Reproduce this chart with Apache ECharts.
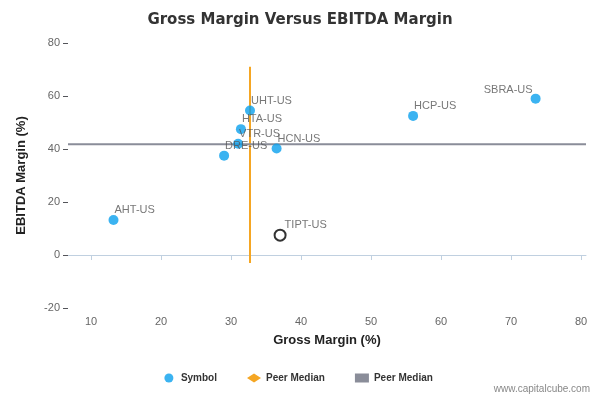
<!DOCTYPE html>
<html><head><meta charset="utf-8">
<script src="https://cdn.jsdelivr.net/npm/echarts@6/dist/echarts.min.js"></script>
</head><body style="margin:0">
<div id="c" style="width:600px;height:400px"></div>
<script>
var symbols = ['AHT-US','DRE-US','VTR-US','HTA-US','UHT-US','HCN-US','HCP-US','SBRA-US'];
var grossMargin = [13.2, 29.0, 31.0, 31.4, 32.7, 36.5, 56.0, 73.5];
var ebitdaMargin = [13.2, 37.5, 42.0, 47.5, 54.5, 40.2, 52.5, 59.0];
var target = {name:'TIPT-US', x:37.0, y:7.5};
var peerMedianX = 32.7, peerMedianY = 41.8;
var xTicks = [10,20,30,40,50,60,70,80];

var pts = symbols.map(function(s,i){
  return {name:s, value:[grossMargin[i], ebitdaMargin[i]],
    label: s==='SBRA-US' ? {position:'left', distance:0, offset:[2,-9]} : {position:'right', distance:0, offset:[-4,-10]}};
});
var chart = echarts.init(document.getElementById('c'));
chart.setOption({
  animation:false,
  title:{text:'Gross Margin Versus EBITDA Margin', left:'center', top:8,
    textStyle:{fontSize:15, fontWeight:'bold', color:'#333', fontFamily:'DejaVu Sans'}},
  grid:{left:68, right:14, top:43, bottom:92},
  xAxis:{type:'value', min:6.7, max:80.7, name:'Gross Margin (%)', nameLocation:'middle', nameGap:26,
    nameTextStyle:{fontWeight:'bold', fontSize:13, color:'#222'},
    axisLine:{lineStyle:{color:'#c0d0e0'}},
    axisTick:{show:true, customValues:xTicks, lineStyle:{color:'#c0d0e0'}},
    axisLabel:{customValues:xTicks, color:'#666', fontSize:11},
    splitLine:{show:false}},
  yAxis:{type:'value', min:-20, max:80, interval:20, name:'EBITDA Margin (%)', nameLocation:'middle', nameGap:40,
    nameTextStyle:{fontWeight:'bold', fontSize:13, color:'#222'},
    axisLine:{show:false},
    axisLabel:{color:'#666', fontSize:11}, splitLine:{show:false}},
  legend:{bottom:12, left:'center', itemGap:30, itemWidth:14, itemHeight:9,
    textStyle:{fontWeight:'bold', fontSize:10, color:'#333'},
    data:[{name:'Symbol', icon:'circle'},
          {name:'Peer Median', icon:'diamond', itemStyle:{color:'#f5a623'}},
          {name:'Peer Median ', icon:'rect', itemStyle:{color:'#8a8d99'}}]},
  graphic:[{type:'text', right:10, bottom:6, style:{text:'www.capitalcube.com', fill:'#888', fontSize:10}}],
  series:[
    {name:'Peer Median', type:'line', showSymbol:false, color:'#f5a623', lineStyle:{width:2},
      data:[[peerMedianX,-3],[peerMedianX,71]], z:1},
    {name:'Peer Median ', type:'line', showSymbol:false, color:'#8a8d99', lineStyle:{width:2},
      data:[[6.7,peerMedianY],[80.7,peerMedianY]], z:1},
    {name:'Symbol', type:'scatter', symbolSize:10, color:'#0aa0ee',
      label:{show:true, formatter:'{b}', color:'#555', fontSize:11}, data:pts, z:3},
    {name:'TIPT', type:'scatter', symbolSize:11,
      itemStyle:{color:'#fff', borderColor:'#000', borderWidth:2},
      label:{show:true, formatter:'{b}', color:'#555', fontSize:11, position:'right', distance:0, offset:[-2,-10]},
      data:[{name:target.name, value:[target.x,target.y]}], z:4}
  ]
});
</script></body></html>
